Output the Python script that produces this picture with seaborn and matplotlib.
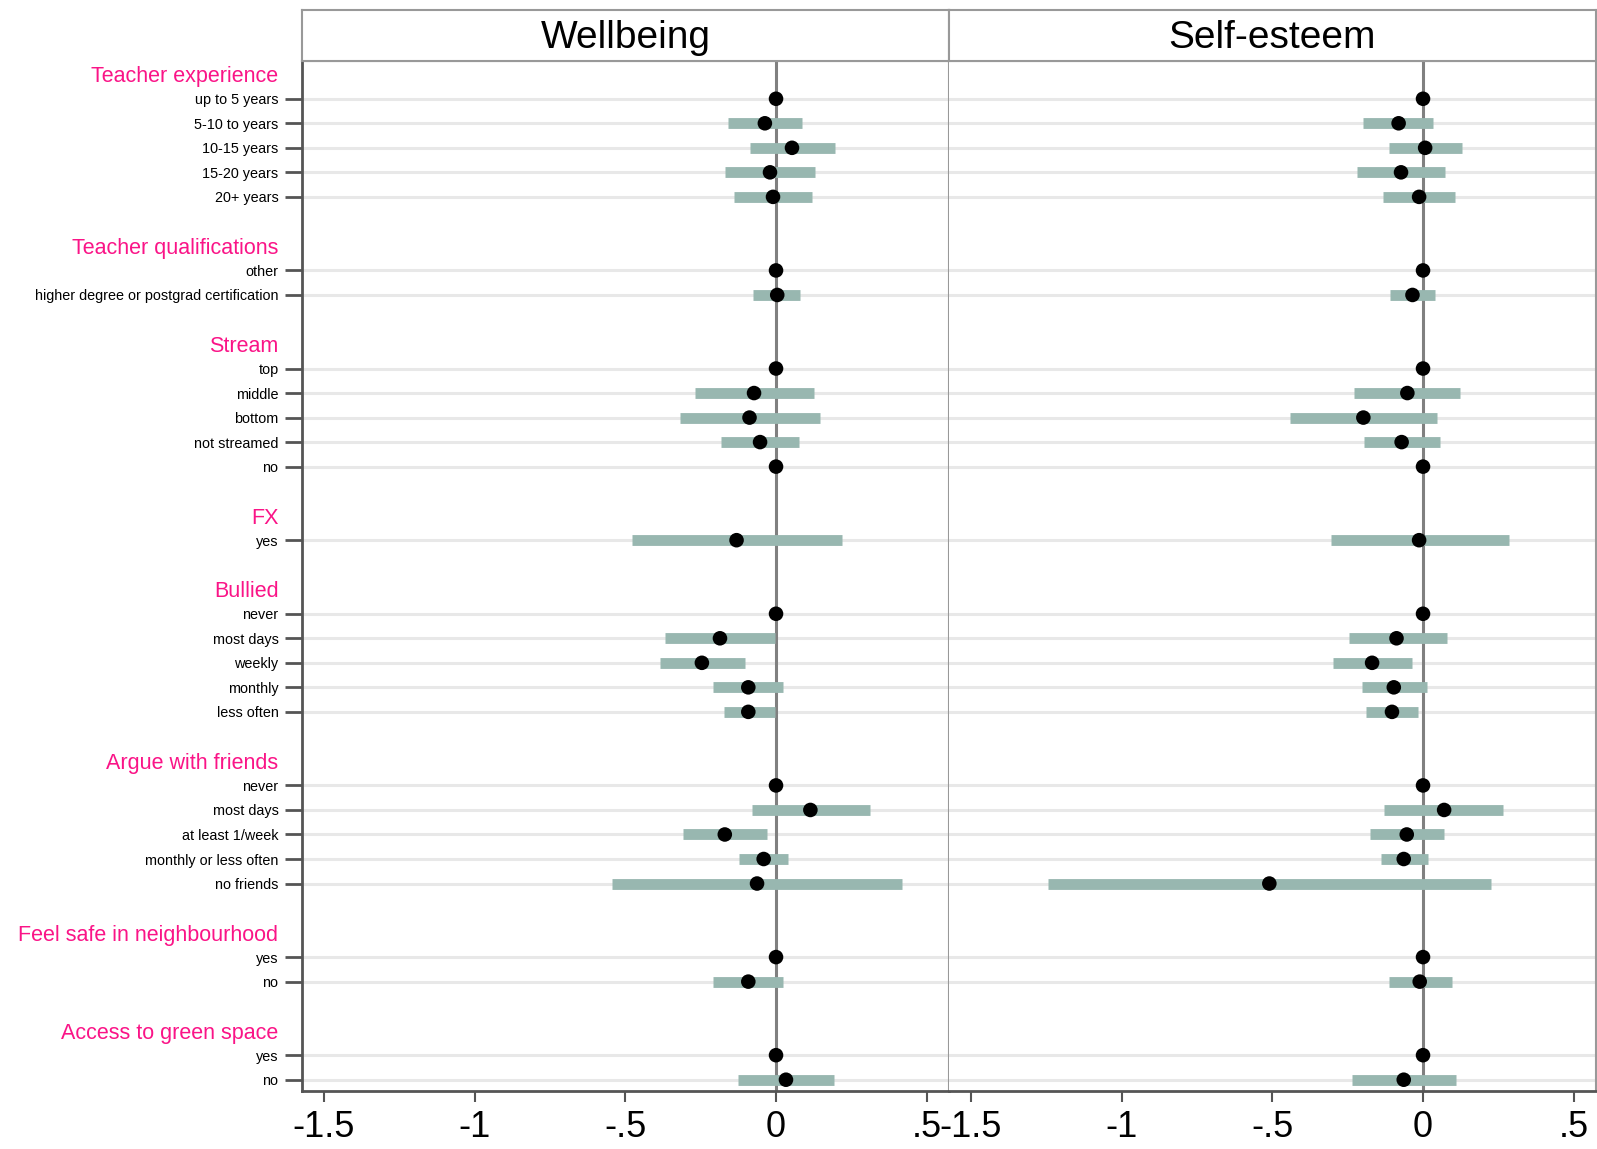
"""
Coefficient plot: Wellbeing and Self-esteem, two panels side by side
"""

import numpy as np
import pandas as pd
import matplotlib
matplotlib.use("Agg")
import matplotlib.pyplot as plt
import seaborn as sns
from matplotlib.ticker import FuncFormatter

# ---- data ----
groups = ["Teacher experience", "Teacher qualifications", "Stream", "FX",
          "Bullied", "Argue with friends", "Feel safe in neighbourhood",
          "Access to green space"]

teacher_exp = ["up to 5 years", "5-10 to years", "10-15 years", "15-20 years", "20+ years"]
teacher_qual = ["other", "higher degree or postgrad certification"]
stream = ["top", "middle", "bottom", "not streamed", "no"]
fx = ["yes"]
bullied = ["never", "most days", "weekly", "monthly", "less often"]
argue = ["never", "most days", "at least 1/week", "monthly or less often", "no friends"]
feel_safe = ["yes", "no"]
green_space = ["yes", "no"]
group_items = [teacher_exp, teacher_qual, stream, fx, bullied, argue, feel_safe, green_space]

nan = np.nan
wb_coef = [0, -0.037, 0.053, -0.020, -0.010,
           0, 0.004,
           0, -0.073, -0.088, -0.053, 0,
           -0.131,
           0, -0.186, -0.246, -0.092, -0.092,
           0, 0.114, -0.170, -0.041, -0.063,
           0, -0.092,
           0, 0.033]
wb_lo = [nan, -0.161, -0.088, -0.168, -0.141,
         nan, -0.075,
         nan, -0.270, -0.320, -0.184, nan,
         -0.479,
         nan, -0.370, -0.386, -0.210, -0.174,
         nan, -0.081, -0.310, -0.124, -0.545,
         nan, -0.208,
         nan, -0.127]
wb_hi = [nan, 0.087, 0.197, 0.130, 0.120,
         nan, 0.081,
         nan, 0.127, 0.147, 0.077, nan,
         0.220,
         nan, -0.003, -0.104, 0.024, -0.003,
         nan, 0.313, -0.029, 0.041, 0.419,
         nan, 0.022,
         nan, 0.193]

se_coef = [0, -0.081, 0.007, -0.073, -0.013,
           0, -0.035,
           0, -0.052, -0.198, -0.071, 0,
           -0.013,
           0, -0.088, -0.169, -0.097, -0.103,
           0, 0.070, -0.054, -0.064, -0.510,
           0, -0.011,
           0, -0.064]
se_lo = [nan, -0.198, -0.112, -0.218, -0.132,
         nan, -0.109,
         nan, -0.228, -0.441, -0.195, nan,
         -0.304,
         nan, -0.247, -0.298, -0.202, -0.188,
         nan, -0.128, -0.175, -0.141, -1.243,
         nan, -0.112,
         nan, -0.237]
se_hi = [nan, 0.034, 0.130, 0.074, 0.107,
         nan, 0.040,
         nan, 0.123, 0.047, 0.057, nan,
         0.284,
         nan, 0.078, -0.035, 0.012, -0.016,
         nan, 0.267, 0.068, 0.015, 0.227,
         nan, 0.096,
         nan, 0.110]

outcomes = ["Wellbeing", "Self-esteem"]
x_ticks = [-1.5, -1, -0.5, 0, 0.5]

# ---- row layout: header, items, blank row ----
tick_pos, tick_lab, is_header, item_rows, item_labels = [], [], [], [], []
pos = 0
for g, items in zip(groups, group_items):
    tick_pos.append(pos); tick_lab.append(g); is_header.append(True)
    pos += 1
    for it in items:
        tick_pos.append(pos); tick_lab.append(it); is_header.append(False)
        item_rows.append(pos); item_labels.append(it)
        pos += 1
    pos += 1

df = pd.concat([
    pd.DataFrame({"pos": item_rows, "label": item_labels, "outcome": outcomes[0],
                  "coef": wb_coef, "lo": wb_lo, "hi": wb_hi}),
    pd.DataFrame({"pos": item_rows, "label": item_labels, "outcome": outcomes[1],
                  "coef": se_coef, "lo": se_lo, "hi": se_hi}),
])

sns.set_theme(style="white")
plt.rcParams['font.family'] = ['Liberation Sans', 'DejaVu Sans']
plt.rcParams['text.color'] = 'black'
plt.rcParams['xtick.labelcolor'] = 'black'
plt.rcParams['ytick.labelcolor'] = 'black'

ci_color = "#98b7b0"
pink = "#fa1487"
axis_dark = "#555555"
frame = "#999999"

fig = plt.figure(figsize=(15.97, 11.49), dpi=100)
panel_x = [302 / 1597, 949 / 1597]
panel_w = 647 / 1597
bottom = 58 / 1149
height = 1030 / 1149
strip_b = (1149 - 61) / 1149
strip_h = 51 / 1149

fmt = FuncFormatter(lambda v, _: ("%g" % v).replace("0.", "."))

for i, outcome in enumerate(outcomes):
    ax = fig.add_axes([panel_x[i], bottom, panel_w, height])
    d = df[df.outcome == outcome]
    for y in item_rows:
        ax.axhline(y, color="#e8e8e8", lw=2.2, zorder=0)
    ax.axvline(0, color="#808080", lw=2.2, zorder=1)
    ci = d.dropna(subset=["lo"])
    ax.hlines(ci.pos, ci.lo, ci.hi, color=ci_color, lw=7.8, zorder=2)
    sns.scatterplot(data=d, x="coef", y="pos", ax=ax, color="black", s=110,
                    edgecolor="none", zorder=3, legend=False)

    ax.set_xlim(-1.573, 0.574)
    ax.set_ylim(41.46, -0.54)
    ax.set_xticks(x_ticks)
    ax.xaxis.set_major_formatter(fmt)
    ax.tick_params(axis="x", direction="out", length=8, width=1.5,
                   color=axis_dark, labelsize=26, pad=6, bottom=True,
                   labelcolor="black")
    ax.set_xlabel(""); ax.set_ylabel("")

    for s in ax.spines.values():
        s.set_color(frame); s.set_linewidth(1.5)
    ax.spines["bottom"].set_color(axis_dark)
    ax.spines["bottom"].set_linewidth(2)

    if i == 0:
        ax.spines["left"].set_color(axis_dark)
        ax.spines["left"].set_linewidth(2)
        ax.set_yticks(tick_pos)
        ax.set_yticklabels(tick_lab)
        ax.tick_params(axis="y", direction="out", length=12, width=2,
                       color=axis_dark, pad=5, left=True)
        for t, lab, h in zip(ax.yaxis.get_major_ticks(), ax.get_yticklabels(), is_header):
            if h:
                t.tick1line.set_visible(False)
                lab.set_color(pink); lab.set_fontsize(15.5)
            else:
                lab.set_color("black"); lab.set_fontsize(10.4)
    else:
        ax.spines["left"].set_visible(False)
        ax.set_yticks([])

    sax = fig.add_axes([panel_x[i], strip_b, panel_w, strip_h])
    sax.set_xticks([]); sax.set_yticks([])
    for s in sax.spines.values():
        s.set_color(frame); s.set_linewidth(1.5)
    sax.text(0.5, 0.46, outcome, ha="center", va="center", fontsize=28,
             color="black", transform=sax.transAxes)

fig.savefig("out.png", dpi=100)
